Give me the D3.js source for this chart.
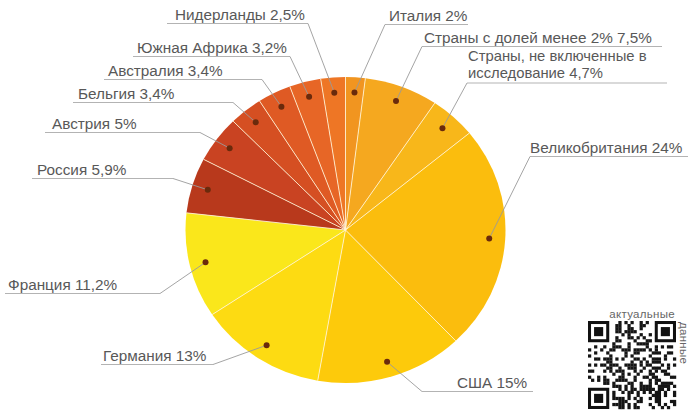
<!DOCTYPE html>
<html>
<head>
<meta charset="utf-8">
<script src="https://cdn.jsdelivr.net/npm/d3@7/dist/d3.min.js"></script>
<style>
  html, body { margin: 0; padding: 0; background: #fff; }
  svg { display: block; }
  text { font-family: "Liberation Sans", Arial, sans-serif; }
</style>
</head>
<body>
<svg id="chart" width="691" height="410"></svg>
<script>
// ---- data ----
const countries = [
  "Италия", "Страны с долей менее 2%", "Страны, не включенные в исследование",
  "Великобритания", "США", "Германия", "Франция", "Россия", "Австрия",
  "Бельгия", "Австралия", "Южная Африка", "Нидерланды"
];
const shares = [2, 7.5, 4.7, 24, 15, 13, 11.2, 5.9, 5, 3.4, 3.4, 3.2, 2.5];
const shareLabels = ["2%", "7,5%", "4,7%", "24%", "15%", "13%", "11,2%", "5,9%", "5%", "3,4%", "3,4%", "3,2%", "2,5%"];
const labelLines = [
  ["Италия 2%"],
  ["Страны с долей менее 2% 7,5%"],
  ["Страны, не включенные в", "исследование 4,7%"],
  ["Великобритания 24%"],
  ["США 15%"],
  ["Германия 13%"],
  ["Франция 11,2%"],
  ["Россия 5,9%"],
  ["Австрия 5%"],
  ["Бельгия 3,4%"],
  ["Австралия 3,4%"],
  ["Южная Африка 3,2%"],
  ["Нидерланды 2,5%"]
];
const qrCaption = ["актуальные", "данные"];

// ---- styles / layout ----
const colors = ["#f19520", "#f5a81f", "#f8b71a", "#fbbd0d", "#fdca0b", "#fddb12", "#fae71b",
                "#b8391c", "#c94322", "#d54f22", "#df5a24", "#e76626", "#ee7625"];
const labelLayout = [
  {side: "R", x: 389, y: 21,  lx1: 385, lx2: 468},
  {side: "R", x: 424, y: 43,  lx1: 422, lx2: 662},
  {side: "R", x: 468, y: 61.2, lx1: 467, lx2: 667, ly: 83, lh: 16.8, fs: 14.8},
  {side: "R", x: 530, y: 153, lx1: 530, lx2: 688},
  {side: "R", x: 457, y: 388, lx1: 422, lx2: 533},
  {side: "L", x: 103, y: 361, lx1: 101, lx2: 213},
  {side: "L", x: 8,   y: 290, lx1: 5,   lx2: 160},
  {side: "L", x: 37,  y: 175, lx1: 32,  lx2: 173},
  {side: "L", x: 52,  y: 129, lx1: 45,  lx2: 200},
  {side: "L", x: 78,  y: 99,  lx1: 73,  lx2: 233},
  {side: "L", x: 108, y: 76,  lx1: 104, lx2: 262},
  {side: "L", x: 137, y: 53,  lx1: 133, lx2: 290},
  {side: "L", x: 175, y: 20,  lx1: 167, lx2: 308}
];

const cx = 345.5, cy = 230, R = 160, ry = 153;
const yScale = ry / R;

const svg = d3.select("#chart");

const pie = d3.pie().sort(null).value(d => d)(shares);
const arc = d3.arc().innerRadius(0).outerRadius(R);
const dotArc = d3.arc().innerRadius(R * 0.9).outerRadius(R * 0.9);

const g = svg.append("g").attr("transform", `translate(${cx},${cy}) scale(1,${yScale})`);
g.selectAll("path.slice").data(pie).enter().append("path")
  .attr("class", "slice")
  .attr("d", arc)
  .attr("fill", (d, i) => colors[i]);

// separators
g.selectAll("line.sep").data(pie).enter().append("line")
  .attr("x1", 0).attr("y1", 0)
  .attr("x2", d => R * Math.sin(d.startAngle))
  .attr("y2", d => -R * Math.cos(d.startAngle))
  .attr("stroke", "#fff3d6").attr("stroke-opacity", 0.85)
  .attr("stroke-width", 1).attr("vector-effect", "non-scaling-stroke");

// dot positions in page coordinates
const dots = pie.map(d => {
  const c = dotArc.centroid(d);
  return [cx + c[0], cy + c[1] * yScale];
});

// labels
const lab = svg.append("g");
labelLayout.forEach((L, i) => {
  const ly = L.ly !== undefined ? L.ly : L.y + 3.5;
  const ax = L.side === "L" ? L.lx2 : L.lx1;
  lab.append("line")
    .attr("x1", L.lx1).attr("x2", L.lx2).attr("y1", ly).attr("y2", ly)
    .attr("stroke", "#b3b3b3").attr("stroke-width", 1);
  lab.append("line")
    .attr("x1", ax).attr("y1", ly).attr("x2", dots[i][0]).attr("y2", dots[i][1])
    .attr("stroke", "#9a9a9a").attr("stroke-width", 0.9);
  const txt = lab.append("text")
    .attr("x", L.x).attr("y", L.y)
    .attr("font-size", L.fs || 15.3)
    .attr("fill", "#585858");
  labelLines[i].forEach((t, k) => {
    txt.append("tspan")
      .attr("x", L.x).attr("y", L.y + k * (L.lh || 15))
      .text(t);
  });
});

svg.append("g").selectAll("circle").data(dots).enter().append("circle")
  .attr("cx", d => d[0]).attr("cy", d => d[1]).attr("r", 3)
  .attr("fill", "#6a2a0c");

// QR-like decoration
const qx = 588, qy = 321, qs = 88, n = 29, m = qs / n;
const qr = svg.append("g");
function finder(col, row) {
  qr.append("rect").attr("x", qx + col * m).attr("y", qy + row * m).attr("width", 7 * m).attr("height", 7 * m).attr("fill", "#111");
  qr.append("rect").attr("x", qx + (col + 1) * m).attr("y", qy + (row + 1) * m).attr("width", 5 * m).attr("height", 5 * m).attr("fill", "#fff");
  qr.append("rect").attr("x", qx + (col + 2) * m).attr("y", qy + (row + 2) * m).attr("width", 3 * m).attr("height", 3 * m).attr("fill", "#111");
}
function inFinder(c, r) {
  return (c < 8 && r < 8) || (c >= n - 8 && r < 8) || (c < 8 && r >= n - 8);
}
for (let r = 0; r < n; r++) {
  for (let c = 0; c < n; c++) {
    if (inFinder(c, r)) continue;
    const h = ((c * 73856093) ^ (r * 19349663) ^ (c * r * 83492791)) >>> 0;
    if ((h % 7) < 3) {
      qr.append("rect").attr("x", qx + c * m).attr("y", qy + r * m)
        .attr("width", m + 0.2).attr("height", m + 0.2).attr("fill", "#151515");
    }
  }
}
finder(0, 0); finder(n - 7, 0); finder(0, n - 7);

svg.append("text").attr("x", 675).attr("y", 318).attr("text-anchor", "end")
  .attr("font-size", 11.5).attr("fill", "#666").attr("letter-spacing", 0.3).text(qrCaption[0]);
svg.append("text").attr("transform", "translate(680,322) rotate(90)")
  .attr("font-size", 11.5).attr("fill", "#666").attr("letter-spacing", 0.3).text(qrCaption[1]);
</script>
</body>
</html>
